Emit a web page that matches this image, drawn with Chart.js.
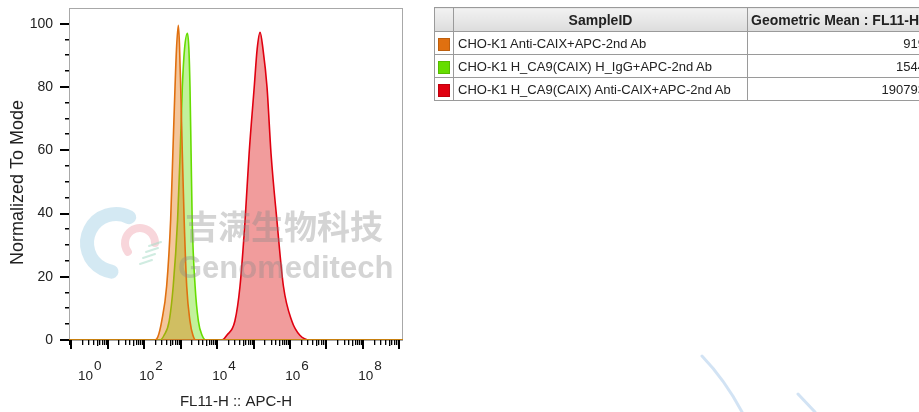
<!DOCTYPE html>
<html><head><meta charset="utf-8">
<script src="https://cdn.jsdelivr.net/npm/chart.js@4.4.1/dist/chart.umd.min.js"></script>
<style>
html,body{margin:0;padding:0;background:#fff;width:919px;height:412px;overflow:hidden;}
#wrap{position:relative;width:919px;height:412px;overflow:hidden;}
#c{position:absolute;left:0;top:0;}
#tbl{position:absolute;left:434px;top:7px;width:494px;border-collapse:collapse;font-family:"Liberation Sans",Arial,sans-serif;font-size:13px;color:#222;table-layout:fixed;}
#tbl td,#tbl th{border:1px solid #9a9a9a;padding:0 4px;white-space:nowrap;overflow:hidden;}
#tbl th{background:linear-gradient(#f2f2f2,#dcdcdc);font-weight:bold;height:23px;font-size:14px;}
#tbl td{height:22px;}
.sw{display:inline-block;width:12px;height:13px;vertical-align:middle;box-shadow:inset 0 0 0 1px rgba(0,0,0,0.15);}
</style></head>
<body>
<div id="wrap">
<canvas id="c" width="919" height="412"></canvas>
<table id="tbl"></table>
</div>
<script>
// ---- data (x positions in log10 decades of FL11-H :: APC-H, y = % of mode) ----
const sampleNames = ["CHO-K1 Anti-CAIX+APC-2nd Ab","CHO-K1 H_CA9(CAIX) H_IgG+APC-2nd Ab","CHO-K1 H_CA9(CAIX) Anti-CAIX+APC-2nd Ab"];
const geoMeans = ["919","1544","190793"];
const seriesColors = ["#E07010","#66DD00","#E00010"];
const seriesFills = ["rgba(228,118,20,0.42)","rgba(110,222,20,0.42)","rgba(222,20,20,0.42)"];

const orangeLog = [2.30,2.38,2.485,2.62,2.73,2.79,2.85,2.89,2.94,2.97,3.005,3.05,3.10,3.17,3.26,3.34,3.42];
const orangeVal = [0,1,6,17,38,59,80,92,99.5,94,80,59,38,17,6,1.5,0];
const greenLog = [2.44,2.55,2.69,2.80,2.92,2.99,3.05,3.11,3.19,3.23,3.26,3.29,3.32,3.40,3.49,3.59,3.70];
const greenVal = [0,1.5,6,17,38,59,80,92,97,92,80,59,38,17,6,1.5,0];
const redLog = [4.14,4.27,4.49,4.63,4.77,4.88,5.02,5.10,5.18,5.26,5.37,5.48,5.64,5.82,6.05,6.27,6.55];
const redVal = [0,1.5,6,17,38,59,80,92,97.3,92,80,59,38,17,6,1.5,0];

const yTickLabels = [0,20,40,60,80,100];
const xLabelDecades = [0,2,4,6,8];
const xMinLog = -0.055, xMaxLog = 9.096;
const yTitle = 'Normalized To Mode';

// ---- table ----
const tbl = document.getElementById('tbl');
let html = '<colgroup><col style="width:19px"><col style="width:294px"><col style="width:181px"></colgroup>';
html += '<tr><th></th><th style="text-align:center">SampleID</th><th style="text-align:left;padding-left:3px">Geometric Mean : FL11-H :: APC-H</th></tr>';
sampleNames.forEach((n,i)=>{
  html += '<tr><td style="padding:0 0 0 3px"><span class="sw" style="background:'+seriesColors[i]+'"></span></td><td>'+n+'</td><td style="text-align:right;padding-right:3px">'+geoMeans[i]+'</td></tr>';
});
tbl.innerHTML = html;

// ---- chart ----
function toPts(logs, vals){
  const pts = [{x:Math.pow(10,xMinLog), y:0}];
  logs.forEach((d,i)=>pts.push({x:Math.pow(10,d), y:vals[i]}));
  pts.push({x:Math.pow(10,xMaxLog), y:0});
  return pts;
}
const series = [toPts(orangeLog,orangeVal), toPts(greenLog,greenVal), toPts(redLog,redVal)];

const FONT = '"Liberation Sans", Arial, sans-serif';

const deco = {
  id:'deco',
  beforeDatasetsDraw(chart){
    const {ctx, chartArea:a} = chart;
    ctx.save();
    ctx.strokeStyle = '#a8a8a8'; ctx.lineWidth = 1;
    ctx.strokeRect(a.left+0.5, a.top+0.5, a.right-a.left-1, a.bottom-a.top);
    ctx.restore();
  },
  afterDatasetsDraw(chart){
    const {ctx, chartArea:a, scales:{x,y}} = chart;
    ctx.save();
    // watermark logo
    ctx.lineCap='round';
    ctx.strokeStyle='rgba(170,212,232,0.5)'; ctx.lineWidth=14;
    ctx.beginPath(); ctx.arc(116,243,29,-0.35*Math.PI,0.55*Math.PI,true); ctx.stroke();
    ctx.strokeStyle='rgba(240,165,175,0.45)'; ctx.lineWidth=8;
    ctx.beginPath(); ctx.arc(140,243,15,0.8*Math.PI,2.0*Math.PI,false); ctx.stroke();
    ctx.strokeStyle='rgba(170,220,200,0.55)'; ctx.lineWidth=2;
    for(let i=0;i<4;i++){ctx.beginPath();ctx.moveTo(140+i*3,264-i*6);ctx.lineTo(152+i*3,260-i*6);ctx.stroke();}
    // watermark text
    ctx.fillStyle='rgba(135,135,135,0.36)';
    ctx.textBaseline='alphabetic'; ctx.textAlign='left';
    ctx.font='bold 33px "Noto Sans CJK SC"';
    ctx.fillText('吉满生物科技',185,239);
    ctx.font='bold 31px '+FONT;
    ctx.fillText('Genomeditech',178,278);
    // faint corner strokes
    ctx.strokeStyle='rgba(195,218,240,0.75)'; ctx.lineWidth=3;
    ctx.beginPath(); ctx.moveTo(702,356); ctx.quadraticCurveTo(725,380,742,412); ctx.stroke();
    ctx.beginPath(); ctx.moveTo(798,394); ctx.lineTo(815,412); ctx.stroke();

    // y tick marks
    ctx.fillStyle='#000';
    for(let v=0; v<=100; v+=5){
      const py = Math.round(y.getPixelForValue(v));
      if (v%20===0) ctx.fillRect(a.left-9, py-1, 9, 2);
      else ctx.fillRect(a.left-4, py-1, 4, 1.5);
    }
    // x tick marks
    for(let k=-1;k<=9;k++){
      for(let m=1;m<=9;m++){
        const v = m*Math.pow(10,k);
        if (v < x.min*0.999 || v > x.max) continue;
        const px = Math.round(x.getPixelForValue(v));
        if (m===1) ctx.fillRect(px-1, a.bottom, 2, 9);
        else ctx.fillRect(px, a.bottom, 1.3, (m===5?6:5));
      }
    }
    // x labels 10^n
    ctx.fillStyle='#222';
    ctx.font='13.5px '+FONT;
    ctx.textAlign='left';
    xLabelDecades.forEach(k=>{
      const px = x.getPixelForValue(Math.pow(10,k));
      const w1 = ctx.measureText('10').width, w2 = ctx.measureText(String(k)).width;
      const tot = w1+1+w2;
      let start = px + 7 - tot/2;
      if (start < a.left + 9) start = a.left + 9;
      ctx.fillText('10', start, 380);
      ctx.fillText(String(k), start+w1+1, 370);
    });
    // y axis title
    ctx.save();
    ctx.translate(18, 182.5);
    ctx.rotate(-Math.PI/2);
    ctx.textAlign='center'; ctx.textBaseline='middle';
    ctx.font='18px '+FONT;
    ctx.fillText(yTitle, 0, 0);
    ctx.restore();
    ctx.restore();
  }
};

new Chart(document.getElementById('c'), {
  type:'line',
  data:{
    datasets: series.map((d,i)=>({
      label: sampleNames[i], data:d,
      borderColor: seriesColors[i], backgroundColor: seriesFills[i],
      borderWidth:1.6, pointRadius:0, fill:'origin',
      cubicInterpolationMode:'monotone'
    }))
  },
  options:{
    responsive:false, animation:false,
    layout:{padding:{left:0, top:8, right:516, bottom:0}},
    plugins:{legend:{display:false}, tooltip:{enabled:false}},
    scales:{
      x:{
        type:'logarithmic', min:Math.pow(10,xMinLog), max:Math.pow(10,xMaxLog),
        grid:{display:false, drawTicks:false}, border:{display:false},
        ticks:{display:false},
        title:{display:true, text:'FL11-H :: APC-H', color:'#222', font:{family:FONT, size:15}, padding:{top:0,bottom:1}},
        afterFit(s){ s.height = 72; s.paddingLeft = 0; s.paddingRight = 0; }
      },
      y:{
        min:0, max:105,
        grid:{display:false, drawTicks:false}, border:{display:false},
        ticks:{stepSize:20, includeBounds:false, color:'#222', font:{family:FONT, size:14}, padding:16,
          callback:(v)=> yTickLabels.includes(v) ? String(v) : ''},
        title:{display:false},
        afterFit(s){ s.width = 69; s.paddingTop = 0; s.paddingBottom = 0; }
      }
    }
  },
  plugins:[deco]
});
</script>
</body></html>
